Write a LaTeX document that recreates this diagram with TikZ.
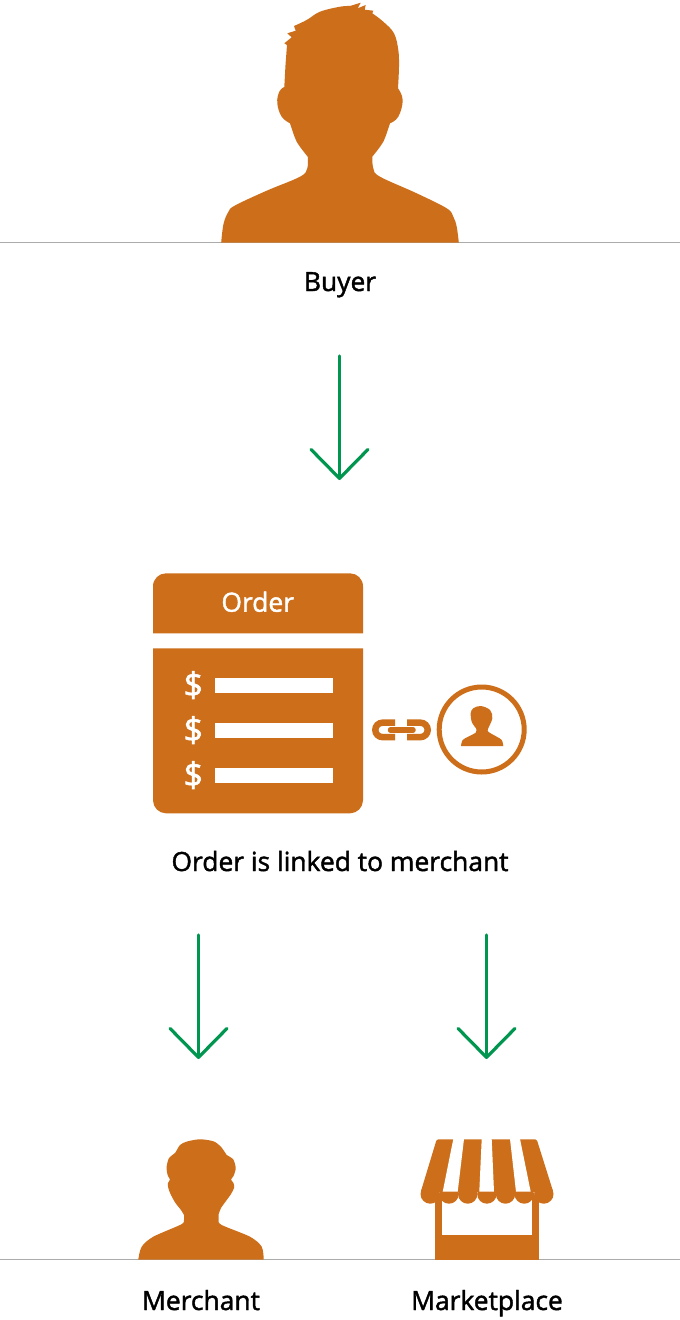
\documentclass[tikz,border=0pt]{standalone}
\usepackage{fontspec}
\setmainfont{Open Sans}[FakeBold=1.6]
\usetikzlibrary{arrows.meta}
\definecolor{iconorange}{HTML}{CD6F1A}
\definecolor{flowgreen}{HTML}{00964F}
\definecolor{rulegray}{HTML}{ABABAB}
\tikzset{
  icon/.style={fill=iconorange,draw=none},
  flow/.style={draw=flowgreen,line width=3.2pt,line cap=round,line join=round,
    -{Straight Barb[length=29pt,width=57pt,line width=3.2pt,round]}},
  rulerline/.style={draw=rulegray,line width=1pt},
  label/.style={font=\fontsize{26.4}{30}\selectfont,text=black,inner sep=0pt,anchor=base},
  whitelabel/.style={label,text=white},
  dollar/.style={font=\fontsize{34}{36}\selectfont,text=white,inner sep=0pt,anchor=base},
  bar/.style={fill=white,draw=none},
  chain/.style={draw=iconorange,line width=6.5pt,line cap=butt},
}
\begin{document}
\begin{tikzpicture}[x=1pt,y=-1pt]
\useasboundingbox (0,0) rectangle (680,1320);
\fill[white] (0,0) rectangle (680,1320);

% rules
\coordinate (r1a) at (0,242.5); \coordinate (r1b) at (680,242.5);
\coordinate (r2a) at (0,1259.5); \coordinate (r2b) at (680,1259.5);
\draw[rulerline] (r1a) -- (r1b);
\draw[rulerline] (r2a) -- (r2b);

% buyer
\fill[icon] (284.3,87) -- (285.5,65) -- (287,45) -- (284.3,43.3) -- (291.7,37.3) -- (287.3,33.3) -- (295.7,30.7) -- (294,26)
  -- plot[smooth,tension=.6] coordinates {(294,26) (306.7,20) (320,11.7) (340,6.7) (350,6)}
  -- (360.7,2.7) -- (357.7,8.3) -- (365.7,5) -- (364.7,9.7) -- (373.3,10.7) -- (372.3,13.3)
  -- plot[smooth,tension=.6] coordinates {(372.3,13.3) (383.3,21.7) (394,33.3) (398.3,50) (399,66.7) (398,88.3)}
  -- plot[smooth,tension=.7] coordinates {(398,88.3) (402.7,100) (398.3,116.7) (390,123.3)}
  -- plot[smooth,tension=.5] coordinates {(390,123.3) (383.3,141.7) (372.3,156.7)}
  -- plot[smooth,tension=.6] coordinates {(372.3,156.7) (373.3,168.3) (380,176.7) (416.7,193.3) (446.7,208.3) (453.3,216.7) (456.7,226.7) (458.8,242.5)}
  -- (221.2,242.5)
  -- plot[smooth,tension=.6] coordinates {(221.2,242.5) (223.5,224) (228.3,212) (235,205.5) (266.7,190.7) (300,176.7) (307.3,168.3) (307.7,156.7)}
  -- plot[smooth,tension=.5] coordinates {(307.7,156.7) (296.7,141.7) (290,123.3)}
  -- plot[smooth,tension=.7] coordinates {(290,123.3) (281.7,116.7) (277.3,103.3) (279.3,91.7) (284.3,87)}
  -- cycle;
\node[label] (buyer) at (340,291) {Buyer};

% arrows
\coordinate (a1s) at (339.5,356); \coordinate (a1e) at (339.5,480);
\coordinate (a2s) at (198.5,935); \coordinate (a2e) at (198.5,1059);
\coordinate (a3s) at (486.5,935); \coordinate (a3e) at (486.5,1059);
\draw[flow] (a1s) -- (a1e);
\draw[flow] (a2s) -- (a2e);
\draw[flow] (a3s) -- (a3e);

% order card
\fill[icon] (153,633.3) -- (153,586.3) .. controls (153,579) and (159,573.3) .. (166,573.3) -- (350,573.3) .. controls (357,573.3) and (363,579) .. (363,586.3) -- (363,633.3) -- cycle;
\fill[icon] (153,648.3) -- (363,648.3) -- (363,800.3) .. controls (363,807.5) and (357,813.3) .. (350,813.3) -- (166,813.3) .. controls (159,813.3) and (153,807.5) .. (153,800.3) -- cycle;
\node[whitelabel] (order) at (257.7,611.7) {Order};
\fill[bar] (215,678.3) rectangle (333,693.3);
\fill[bar] (215,723.3) rectangle (333,738.3);
\fill[bar] (215,768.3) rectangle (333,783.3);
\node[dollar] (d1) at (193.3,697) {\$};
\node[dollar] (d2) at (193.3,742) {\$};
\node[dollar] (d3) at (193.3,787) {\$};

% chain
\draw[chain] (395,722.7) -- (382.5,722.7) arc[start angle=90,end angle=270,radius=7.2,y radius=-7.2] -- (395,737.1);
\draw[chain] (407,722.7) -- (420.5,722.7) arc[start angle=90,end angle=-90,radius=7.2,y radius=-7.2] -- (407,737.1);
\coordinate (c1) at (390.5,730); \coordinate (c2) at (413,730);
\draw[draw=iconorange,line width=5.5pt,line cap=round] (c1) -- (c2);

% small person in circle
\node[circle,draw=iconorange,line width=5pt,minimum size=85pt,inner sep=0pt] (linked) at (481.7,729.5) {};
\fill[icon] plot[smooth,tension=.6] coordinates {(476,728.3) (471.7,721.7) (470.7,713.3) (473.3,708.3) (480.7,706) (490,710) (492.3,718.3) (488.3,728.3) (488.3,731.7) (496.7,736.7) (501.7,740) (503.3,746)} -- (461,746) -- plot[smooth,tension=.6] coordinates {(461,746) (462.7,740) (468.3,736.7) (476,732.3) (476,728.3)} -- cycle;

\node[label] (linktext) at (340,871) {Order is linked to merchant};

% merchant
\fill[icon] plot[smooth,tension=.5] coordinates {(184,1215) (181,1210) (175.5,1203) (171,1195) (168.3,1188) (168,1183) (170,1179.5) (168,1176) (166.5,1168) (169,1158) (175,1153) (180,1145) (187,1141.5) (200,1139.3) (214,1141.5) (222,1148) (226.7,1155) (233,1159) (235.7,1168) (233.5,1176) (231,1179.5) (233.5,1183) (234,1188) (231,1194) (226,1201) (221,1208) (218.7,1214)}
  -- plot[smooth,tension=.5] coordinates {(218.7,1214) (218.7,1220) (221.7,1225) (250,1236.7) (261.7,1246.7) (263.7,1259.5)}
  -- (138.3,1259.5)
  -- plot[smooth,tension=.5] coordinates {(138.3,1259.5) (141.7,1246.7) (153.3,1236.7) (181,1224.5) (184,1220) (184,1215)}
  -- cycle;
\node[label] (merchant) at (201,1310) {Merchant};

% marketplace
\fill[icon] (435,1195) rectangle (539,1259.5);
\fill[white] (442,1195) rectangle (532,1235);
\fill[icon,rounded corners=1.5pt] (436.7,1139.3) -- (536.7,1139.3) -- (553.3,1192) -- (420.7,1192) -- cycle;
\foreach \cx in {430.2,449,467.7,486.9,505.5,524.2,543.8}
  \fill[icon] (\cx,1194) circle[radius=9.7];
\fill[white] (453.3,1139) -- (464,1139) -- (457.7,1191.7) -- (442.7,1191.7) -- cycle;
\fill[white] (481.7,1139) -- (491.7,1139) -- (494,1191.7) -- (479.3,1191.7) -- cycle;
\fill[white] (510,1139) -- (520,1139) -- (530.7,1191.7) -- (516,1191.7) -- cycle;
\node[label] (marketplace) at (487,1310) {Marketplace};
\end{tikzpicture}
\end{document}
